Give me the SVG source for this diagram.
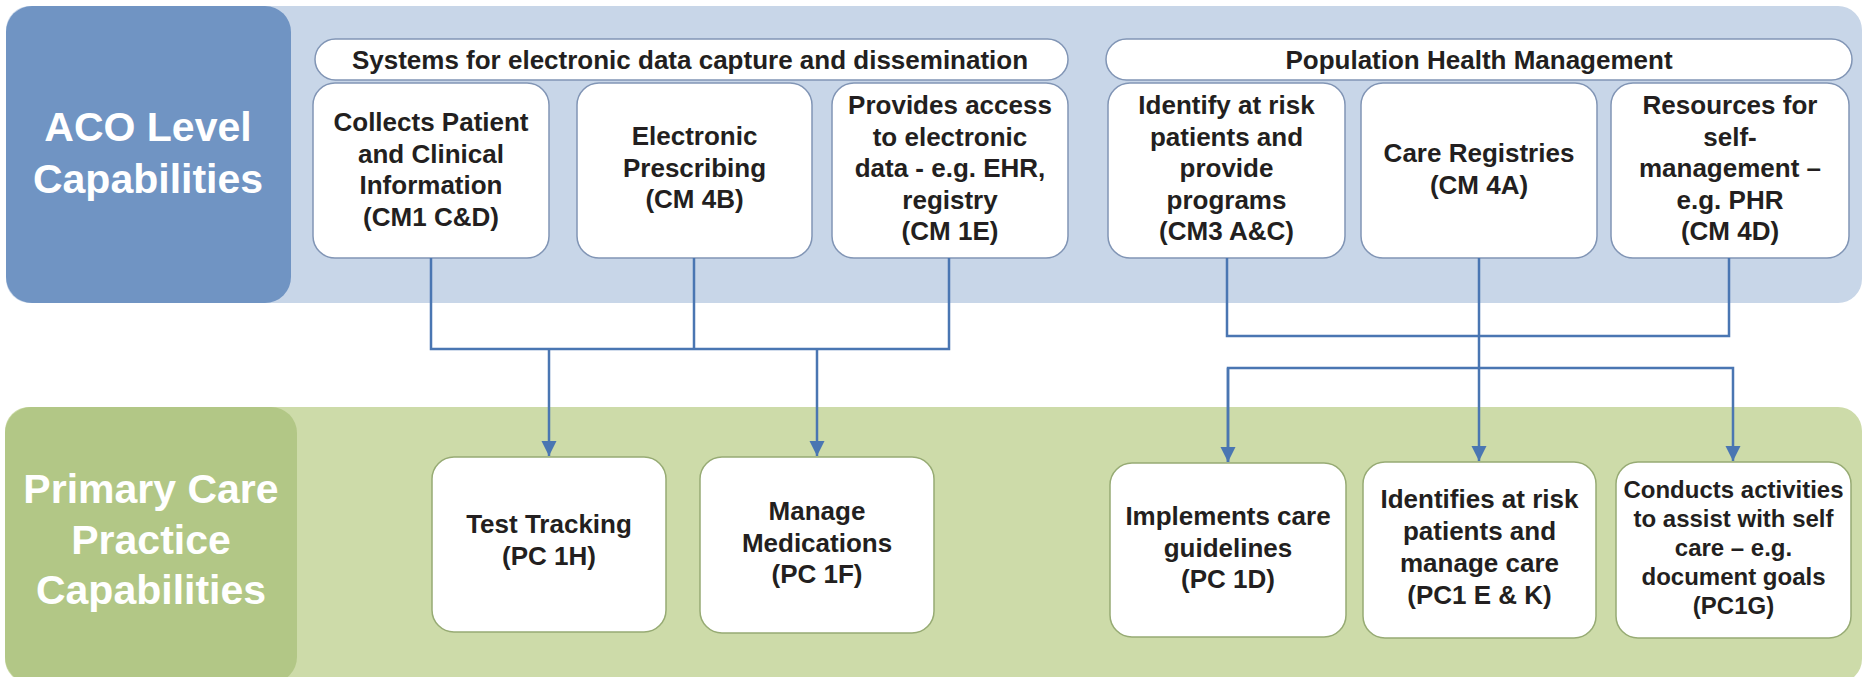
<svg xmlns="http://www.w3.org/2000/svg" width="1864" height="677" viewBox="0 0 1864 677">
<defs>
<style>
.t{font-family:"Liberation Sans",Arial,sans-serif;font-weight:bold;font-size:26px;fill:#231f20;text-anchor:middle}
.s{font-size:24px}
.big{font-family:"Liberation Sans",Arial,sans-serif;font-weight:bold;font-size:41px;fill:#ffffff;text-anchor:middle}
.topbox{fill:#ffffff;stroke:#8195b5;stroke-width:1.5}
.botbox{fill:#ffffff;stroke:#97ab74;stroke-width:1.5}
.conn{fill:none;stroke:#4a76b2;stroke-width:2.5}
</style>
<marker id="arr" viewBox="0 0 10 10" refX="10" refY="5" markerWidth="6" markerHeight="6.4" markerUnits="strokeWidth" orient="auto">
<path d="M0,0 L10,5 L0,10 Z" fill="#4a76b2"/>
</marker>
</defs>
<rect width="1864" height="677" fill="#ffffff"/>

<g id="band_aco">
<rect x="6" y="6" width="1856" height="297" rx="24" fill="#c8d6e8"/>
<rect x="6" y="6" width="285" height="297" rx="26" fill="#7094c3"/>
<text class="big" x="148" y="141">ACO Level</text>
<text class="big" x="148" y="193">Capabilities</text>
</g>

<g id="band_pc">
<rect x="5" y="407" width="1857" height="276" rx="24" fill="#cddba9"/>
<rect x="5" y="407" width="292" height="276" rx="26" fill="#b2c786"/>
<text class="big" x="151" y="503" fill="#f5f8ee">Primary Care</text>
<text class="big" x="151" y="554" fill="#f5f8ee">Practice</text>
<text class="big" x="151" y="604" fill="#f5f8ee">Capabilities</text>
</g>

<g id="hdr_systems">
<rect class="topbox" x="315" y="39" width="753" height="41" rx="20.5"/>
<text class="t" x="690" y="69">Systems for electronic data capture and dissemination</text>
</g>
<g id="hdr_population">
<rect class="topbox" x="1106" y="39" width="746" height="41" rx="20.5"/>
<text class="t" x="1479" y="69">Population Health Management</text>
</g>

<g id="n_collects">
<rect class="topbox" x="313" y="83" width="236" height="175" rx="22"/>
<text class="t" x="431" y="131">Collects Patient</text>
<text class="t" x="431" y="162.5">and Clinical</text>
<text class="t" x="431" y="194">Information</text>
<text class="t" x="431" y="225.5">(CM1 C&amp;D)</text>
</g>
<g id="n_eprescribing">
<rect class="topbox" x="577" y="83" width="235" height="175" rx="22"/>
<text class="t" x="694.5" y="145">Electronic</text>
<text class="t" x="694.5" y="176.5">Prescribing</text>
<text class="t" x="694.5" y="208">(CM 4B)</text>
</g>
<g id="n_access">
<rect class="topbox" x="832" y="83" width="236" height="175" rx="22"/>
<text class="t" x="950" y="114">Provides access</text>
<text class="t" x="950" y="145.5">to electronic</text>
<text class="t" x="950" y="177">data - e.g. EHR,</text>
<text class="t" x="950" y="208.5">registry</text>
<text class="t" x="950" y="240">(CM 1E)</text>
</g>
<g id="n_identify">
<rect class="topbox" x="1108" y="83" width="237" height="175" rx="22"/>
<text class="t" x="1226.5" y="114">Identify at risk</text>
<text class="t" x="1226.5" y="145.5">patients and</text>
<text class="t" x="1226.5" y="177">provide</text>
<text class="t" x="1226.5" y="208.5">programs</text>
<text class="t" x="1226.5" y="240">(CM3 A&amp;C)</text>
</g>
<g id="n_registries">
<rect class="topbox" x="1361" y="83" width="236" height="175" rx="22"/>
<text class="t" x="1479" y="162">Care Registries</text>
<text class="t" x="1479" y="193.5">(CM 4A)</text>
</g>
<g id="n_resources">
<rect class="topbox" x="1611" y="83" width="238" height="175" rx="22"/>
<text class="t" x="1730" y="114">Resources for</text>
<text class="t" x="1730" y="145.5">self-</text>
<text class="t" x="1730" y="177">management –</text>
<text class="t" x="1730" y="208.5">e.g. PHR</text>
<text class="t" x="1730" y="240">(CM 4D)</text>
</g>

<g id="n_test">
<rect class="botbox" x="432" y="457" width="234" height="175" rx="22"/>
<text class="t" x="549" y="533">Test Tracking</text>
<text class="t" x="549" y="565">(PC 1H)</text>
</g>
<g id="n_meds">
<rect class="botbox" x="700" y="457" width="234" height="176" rx="22"/>
<text class="t" x="817" y="520">Manage</text>
<text class="t" x="817" y="551.5">Medications</text>
<text class="t" x="817" y="583">(PC 1F)</text>
</g>
<g id="n_guidelines">
<rect class="botbox" x="1110" y="463" width="236" height="174" rx="22"/>
<text class="t" x="1228" y="525">Implements care</text>
<text class="t" x="1228" y="556.5">guidelines</text>
<text class="t" x="1228" y="588">(PC 1D)</text>
</g>
<g id="n_identifies">
<rect class="botbox" x="1363" y="462" width="233" height="176" rx="22"/>
<text class="t" x="1479.5" y="508">Identifies at risk</text>
<text class="t" x="1479.5" y="540">patients and</text>
<text class="t" x="1479.5" y="572">manage care</text>
<text class="t" x="1479.5" y="603.5">(PC1 E &amp; K)</text>
</g>
<g id="n_selfcare">
<rect class="botbox" x="1616" y="462" width="235" height="176" rx="22"/>
<text class="t s" x="1733.5" y="498">Conducts activities</text>
<text class="t s" x="1733.5" y="527">to assist with self</text>
<text class="t s" x="1733.5" y="556">care – e.g.</text>
<text class="t s" x="1733.5" y="585">document goals</text>
<text class="t s" x="1733.5" y="614">(PC1G)</text>
</g>

<g id="connectors">
<path class="conn" d="M431,258 V349 H949 V258"/>
<path class="conn" d="M694,258 V349"/>
<path class="conn" d="M549,349 V456" marker-end="url(#arr)"/>
<path class="conn" d="M817,349 V456" marker-end="url(#arr)"/>
<path class="conn" d="M1227,258 V336 H1729 V258"/>
<path class="conn" d="M1479,258 V461" marker-end="url(#arr)"/>
<path class="conn" d="M1228,462 V368 H1733 V461" marker-end="url(#arr)"/>
<path class="conn" d="M1228,368 V462" marker-end="url(#arr)"/>
</g>
</svg>
